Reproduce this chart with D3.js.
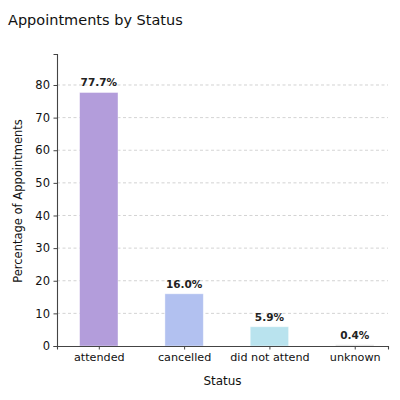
<!DOCTYPE html>
<html>
<head>
<meta charset="utf-8">
<script src="https://cdn.jsdelivr.net/npm/d3@7"></script>
<style>
  body { margin: 0; background: #fff; }
  text { font-family: "DejaVu Sans", sans-serif; }
</style>
</head>
<body>
<script>
'use strict';

// data
const statuses = ["attended", "cancelled", "did not attend", "unknown"];
const percents = [77.7, 16.0, 5.9, 0.4];
const barColors = ["#b39ddb", "#b2c1f0", "#b9e3ee", "#e0e0e0"];
const yTicks = [0, 10, 20, 30, 40, 50, 60, 70, 80];

(function () {
    const width = 400, height = 400;
    const margin = { top: 54, right: 12, bottom: 54, left: 57 };

    const svg = d3.select("body").append("svg")
        .attr("width", width)
        .attr("height", height);

    // x is a linear index scale so padding matches the picture
    const x = d3.scaleLinear()
        .domain([-0.49, statuses.length - 0.61])
        .range([margin.left, width - margin.right]);
    const bw = x(0.45) - x(0);

    const y = d3.scaleLinear()
        .domain([0, 89.5])
        .range([height - margin.bottom, margin.top]);

    // grid
    svg.append("g")
        .selectAll("line")
        .data(yTicks.slice(1))
        .enter()
        .append("line")
        .attr("x1", margin.left)
        .attr("x2", width - margin.right)
        .attr("y1", d => y(d))
        .attr("y2", d => y(d))
        .attr("stroke", "#c8c8c8")
        .attr("stroke-width", 0.8)
        .attr("stroke-dasharray", "3,2.5");

    // bars
    svg.append("g")
        .selectAll("rect")
        .data(percents)
        .enter()
        .append("rect")
        .attr("x", (d, i) => x(i) - bw / 2)
        .attr("y", d => y(d))
        .attr("width", bw)
        .attr("height", d => y(0) - y(d))
        .attr("fill", (d, i) => barColors[i])
        .attr("stroke", "#ffffff")
        .attr("stroke-opacity", 0.5)
        .attr("stroke-width", 0.8);

    // value labels
    svg.append("g")
        .selectAll("text")
        .data(percents)
        .enter()
        .append("text")
        .attr("x", (d, i) => x(i))
        .attr("y", d => y(d) - 6)
        .attr("text-anchor", "middle")
        .attr("font-size", "10.5px")
        .attr("font-weight", "bold")
        .attr("fill", "#222")
        .text(d => d.toFixed(1) + "%");

    // axes
    const xAxis = svg.append("g")
        .attr("transform", `translate(0,${y(0)})`)
        .call(d3.axisBottom(x)
            .tickValues(d3.range(statuses.length))
            .tickFormat(i => statuses[i])
            .tickSizeOuter(0)
            .tickSize(3.5)
            .tickPadding(3.5));
    xAxis.select(".domain").attr("stroke", "#444").attr("stroke-width", 1.1);
    xAxis.selectAll(".tick line").attr("stroke", "#444");
    xAxis.selectAll("text")
        .attr("font-size", "11.2px")
        .attr("fill", "#111")
        .attr("font-family", "DejaVu Sans, sans-serif");

    const yAxis = svg.append("g")
        .attr("transform", `translate(${margin.left},0)`)
        .call(d3.axisLeft(y)
            .tickValues(yTicks)
            .tickSizeOuter(0)
            .tickSize(3.5)
            .tickPadding(3.5));
    yAxis.select(".domain").attr("stroke", "#444").attr("stroke-width", 1.1);
    yAxis.selectAll(".tick line").attr("stroke", "#444");
    yAxis.selectAll("text")
        .attr("font-size", "11.5px")
        .attr("fill", "#111")
        .attr("font-family", "DejaVu Sans, sans-serif");

    // titles
    svg.append("text")
        .attr("x", 8)
        .attr("y", 25)
        .attr("font-size", "14.5px")
        .attr("fill", "#111")
        .text("Appointments by Status");

    svg.append("text")
        .attr("x", (margin.left + width - margin.right) / 2)
        .attr("y", 385)
        .attr("text-anchor", "middle")
        .attr("font-size", "12px")
        .attr("fill", "#111")
        .text("Status");

    svg.append("text")
        .attr("transform", `translate(22,${(margin.top + height - margin.bottom) / 2 + 1}) rotate(-90)`)
        .attr("text-anchor", "middle")
        .attr("font-size", "11.5px")
        .attr("fill", "#111")
        .text("Percentage of Appointments");
})();
</script>
</body>
</html>
